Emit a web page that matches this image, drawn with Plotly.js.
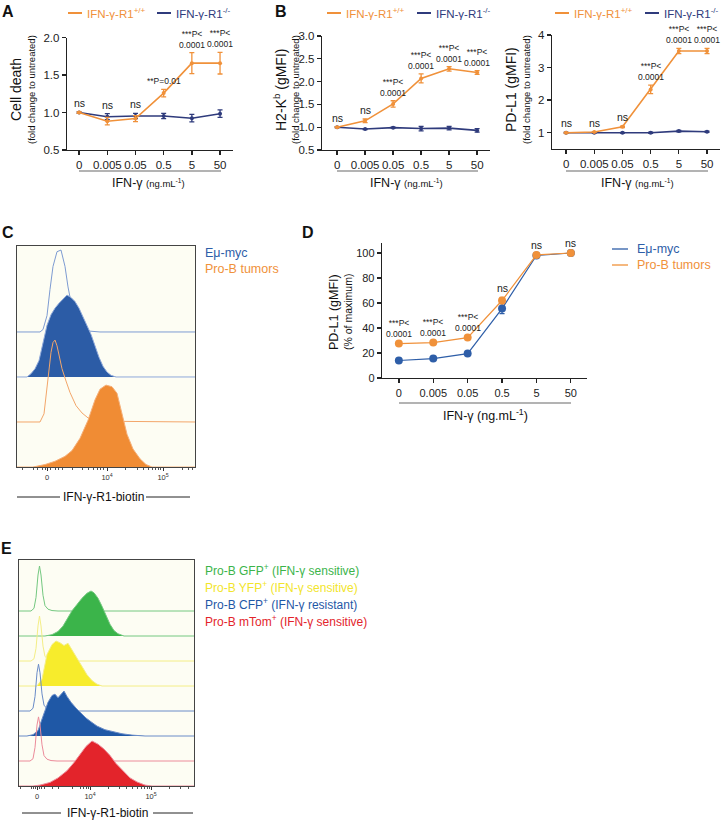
<!DOCTYPE html>
<html>
<head>
<meta charset="utf-8">
<script src="https://cdn.plot.ly/plotly-3.0.1.min.js"></script>
<style>
  html, body { margin: 0; padding: 0; background: #fff; }
  #chart { width: 722px; height: 822px; }
</style>
</head>
<body>
<div id="chart"></div>
<script>
// ---- data ----
const doses = ['0', '0.005', '0.05', '0.5', '5', '50'];

// A: cell death (fold change to untreated)
const deathWT = [1.0, 0.885, 0.92, 1.26, 1.66, 1.66];
const deathWTErr = [0.01, 0.05, 0.04, 0.05, 0.14, 0.145];
const deathKO = [1.0, 0.945, 0.955, 0.955, 0.925, 0.985];
const deathKOErr = [0.01, 0.04, 0.035, 0.035, 0.05, 0.05];
const sigDeath = ['ns', 'ns', 'ns', '**P=0.01', '***P<<br>0.0001', '***P<<br>0.0001'];

// B: H2-Kb gMFI
const kbWT = [1.0, 1.14, 1.51, 2.07, 2.28, 2.2];
const kbWTErr = [0.01, 0.04, 0.07, 0.1, 0.05, 0.04];
const kbKO = [1.0, 0.96, 0.99, 0.97, 0.98, 0.93];
const kbKOErr = [0.01, 0.01, 0.01, 0.05, 0.04, 0.04];
const sigKb = ['ns', 'ns', '***P<<br>0.0001', '***P<<br>0.0001', '***P<<br>0.0001', '***P<<br>0.0001'];

// B (right): PD-L1 gMFI
const pdWT = [1.0, 1.02, 1.18, 2.33, 3.51, 3.51];
const pdWTErr = [0.01, 0.01, 0.02, 0.13, 0.08, 0.08];
const pdKO = [1.0, 1.0, 1.0, 1.0, 1.05, 1.03];
const pdKOErr = [0.01, 0.01, 0.01, 0.02, 0.02, 0.02];
const sigPd = ['ns', 'ns', 'ns', '***P<<br>0.0001', '***P<<br>0.0001', '***P<<br>0.0001'];

// D: PD-L1 % of maximum
const pctMyc = [14, 15.5, 19.5, 55.5, 98, 100];
const pctMycErr = [1, 1, 1, 4, 1.5, 0.5];
const pctProB = [27.5, 28.3, 32.3, 62, 98.5, 100];
const pctProBErr = [1, 1, 1, 2.5, 1, 0.5];
const sigPct = ['***P<<br>0.0001', '***P<<br>0.0001', '***P<<br>0.0001', 'ns', 'ns', 'ns'];

// C: offset histograms (display channel, relative height)
const cMycCtrlX = [17, 40, 43, 47, 50, 53, 57, 61, 65, 68, 72, 77, 83, 90, 100, 195];
const cMycCtrlH = [0, 0, 0.03, 0.2, 0.52, 0.8, 0.98, 1.0, 0.8, 0.55, 0.3, 0.12, 0.04, 0.01, 0, 0];
const cMycX = [17, 27, 31, 35, 39, 43, 47, 51, 55, 59, 63, 67, 71, 75, 79, 83, 87, 91, 95, 99, 103, 107, 111, 116, 195];
const cMycH = [0, 0, 0.04, 0.1, 0.2, 0.42, 0.63, 0.76, 0.84, 0.9, 0.95, 1.0, 0.97, 0.92, 0.84, 0.74, 0.63, 0.52, 0.38, 0.24, 0.13, 0.06, 0.02, 0, 0];
const cProCtrlX = [17, 40, 44, 48, 51, 53, 55, 57, 59, 62, 66, 70, 76, 82, 88, 95, 195];
const cProCtrlH = [0, 0, 0.1, 0.5, 0.85, 0.97, 1.0, 0.93, 0.82, 0.65, 0.5, 0.36, 0.2, 0.11, 0.05, 0.01, 0];
const cProX = [17, 33, 45, 55, 65, 72, 80, 88, 95, 100, 106, 112, 117, 122, 127, 133, 140, 146, 152, 195];
const cProH = [0, 0, 0.03, 0.07, 0.13, 0.2, 0.35, 0.57, 0.82, 0.95, 1.0, 0.98, 0.9, 0.65, 0.4, 0.22, 0.1, 0.03, 0, 0];
const cTickVals = [47, 107, 163];
const cTickText = ['0', '10<sup>4</sup>', '10<sup>5</sup>'];
const cMinorTicks = [22, 33, 37, 42, 45, 50, 55, 58, 62, 72, 82, 88, 93, 97, 100, 103, 125, 137, 143, 148, 152, 155, 158, 160, 182, 188, 192];

// E: offset histograms
const eGfpCtrlX = [19, 31, 34, 36, 38, 39.5, 41, 43, 45, 48, 52, 58, 194];
const eGfpCtrlH = [0, 0, 0.06, 0.3, 0.8, 1.0, 0.8, 0.35, 0.12, 0.04, 0.01, 0, 0];
const eGfpX = [19, 45, 52, 58, 63, 67, 72, 77, 82, 87, 91, 94, 98, 102, 106, 110, 114, 118, 124, 194];
const eGfpH = [0, 0, 0.03, 0.1, 0.22, 0.38, 0.56, 0.7, 0.84, 0.95, 1.0, 0.96, 0.84, 0.66, 0.46, 0.26, 0.12, 0.05, 0, 0];
const eYfpCtrlX = [19, 31, 34, 36, 38, 39.5, 41, 43, 45, 48, 52, 58, 194];
const eYfpCtrlH = [0, 0, 0.05, 0.28, 0.78, 1.0, 0.78, 0.33, 0.1, 0.04, 0.01, 0, 0];
const eYfpX = [19, 37, 42, 47, 52, 56, 60, 64, 68, 72, 77, 82, 87, 92, 97, 102, 194];
const eYfpH = [0, 0, 0.15, 0.7, 0.92, 1.0, 0.96, 0.9, 0.95, 0.8, 0.6, 0.42, 0.25, 0.12, 0.04, 0, 0];
const eCfpCtrlX = [19, 30, 33, 35, 37, 38.5, 40, 42, 44, 47, 51, 57, 194];
const eCfpCtrlH = [0, 0, 0.06, 0.32, 0.85, 1.04, 0.85, 0.38, 0.13, 0.05, 0.01, 0, 0];
const eCfpX = [19, 27, 33, 38, 43, 48, 52, 55, 58, 61, 64, 67, 71, 76, 80, 86, 92, 97, 105, 113, 122, 132, 145, 194];
const eCfpH = [0, 0, 0.03, 0.12, 0.44, 0.75, 0.9, 0.93, 0.85, 0.92, 1.0, 0.88, 0.75, 0.62, 0.53, 0.4, 0.3, 0.22, 0.14, 0.09, 0.05, 0.02, 0, 0];
const eTomCtrlX = [19, 30, 33, 35, 37, 38.5, 40, 42, 44, 47, 51, 57, 194];
const eTomCtrlH = [0, 0, 0.05, 0.3, 0.8, 0.98, 0.8, 0.36, 0.12, 0.04, 0.01, 0, 0];
const eTomX = [19, 33, 40, 50, 58, 67, 74, 80, 86, 92, 98, 104, 110, 116, 123, 130, 137, 145, 152, 194];
const eTomH = [0, 0, 0.02, 0.08, 0.18, 0.34, 0.52, 0.7, 0.88, 1.0, 0.93, 0.82, 0.68, 0.5, 0.34, 0.18, 0.09, 0.02, 0, 0];
const eTickVals = [37, 90, 151];
const eTickText = ['0', '10<sup>4</sup>', '10<sup>5</sup>'];
const eMinorTicks = [20, 31, 33, 35, 39, 41, 44, 52, 58, 72, 80, 83, 86, 88, 108, 119, 126, 132, 137, 141, 144, 147, 149, 169, 180, 188];

const eLegend = [
  ['Pro-B GFP<sup>+</sup> (IFN-γ sensitive)', '#3bb44a'],
  ['Pro-B YFP<sup>+</sup> (IFN-γ sensitive)', '#f2e52b'],
  ['Pro-B CFP<sup>+</sup> (IFN-γ resistant)', '#1f58a6'],
  ['Pro-B mTom<sup>+</sup> (IFN-γ sensitive)', '#e3242b']
];

// ---- styling ----
const W = 722, H = 822;
const px = v => v / W;
const py = v => 1 - v / H;
const FONT = 'Liberation Sans, Arial, Helvetica, sans-serif';
const ORANGE = '#f0913a';
const NAVY = '#2f3b7c';
const MYC = '#2e5ea8';

const traces = [];
const annotations = [];
const shapes = [];

function addPair(xa, ya, wt, wtErr, ko, koErr, kColor, msize, lw) {
  [[ko, koErr, kColor], [wt, wtErr, ORANGE]].forEach(([y, e, c]) => {
    traces.push({
      x: doses, y: y, xaxis: xa, yaxis: ya,
      mode: 'lines+markers', showlegend: false, hoverinfo: 'skip',
      line: { color: c, width: lw },
      marker: { size: msize, color: c },
      error_y: { type: 'data', array: e, color: c, thickness: 1.3, width: 2.5 }
    });
  });
}

function addSig(xa, ya, texts, a, ae, b, be, size) {
  texts.forEach((t, i) => {
    annotations.push({
      xref: xa, yref: ya, x: i, xanchor: 'center',
      y: Math.max(a[i] + ae[i], b[i] + be[i]),
      yanchor: 'bottom', yshift: 1, showarrow: false,
      text: t, font: { family: FONT, size: t === 'ns' ? 10.5 : size, color: '#222' }
    });
  });
}

addPair('x', 'y', deathWT, deathWTErr, deathKO, deathKOErr, NAVY, 4, 1.6);
addPair('x2', 'y2', kbWT, kbWTErr, kbKO, kbKOErr, NAVY, 4, 1.6);
addPair('x3', 'y3', pdWT, pdWTErr, pdKO, pdKOErr, NAVY, 4, 1.6);
addPair('x4', 'y4', pctProB, pctProBErr, pctMyc, pctMycErr, MYC, 8, 1.2);

addSig('x', 'y', sigDeath, deathWT, deathWTErr, deathKO, deathKOErr, 8.5);
addSig('x2', 'y2', sigKb, kbWT, kbWTErr, kbKO, kbKOErr, 8.5);
addSig('x3', 'y3', sigPd, pdWT, pdWTErr, pdKO, pdKOErr, 8.5);
addSig('x4', 'y4', sigPct, pctProB, pctProBErr, pctMyc, pctMycErr, 8.5);

// offset histograms: rows stacked from top to bottom, later rows drawn on top
function addHist(xa, ya, rows, peak) {
  const n = rows.length;
  rows.forEach(([xs, hs, line, fill], k) => {
    const base = n - 1 - k;
    traces.push({
      x: xs, y: hs.map(h => base + h * peak), xaxis: xa, yaxis: ya,
      mode: 'lines', showlegend: false, hoverinfo: 'skip',
      line: { color: line, width: 1 },
      fill: fill ? 'toself' : 'none', fillcolor: fill || undefined
    });
  });
}

addHist('x5', 'y5', [
  [cMycCtrlX, cMycCtrlH, '#7d9bd2', null],
  [cMycX, cMycH, '#8fa9da', '#2c5ca6'],
  [cProCtrlX, cProCtrlH, '#f3a66a', null],
  [cProX, cProH, '#f5b07a', '#f08c34']
], 1.82);

addHist('x6', 'y6', [
  [eGfpCtrlX, eGfpCtrlH, '#74c880', null],
  [eGfpX, eGfpH, '#74c880', '#3bb44a'],
  [eYfpCtrlX, eYfpCtrlH, '#f4ee86', null],
  [eYfpX, eYfpH, '#f4ee86', '#f7ec2c'],
  [eCfpCtrlX, eCfpCtrlH, '#6a8cc8', null],
  [eCfpX, eCfpH, '#6a8cc8', '#1f58a6'],
  [eTomCtrlX, eTomCtrlH, '#ec8b9a', null],
  [eTomX, eTomH, '#ec8b9a', '#e3242b']
], 1.8);

// ---- axes ----
const lineAxis = {
  showline: true, linecolor: '#222', linewidth: 1.3, ticks: 'outside', ticklen: 4,
  tickwidth: 1.3, tickcolor: '#222', showgrid: false, zeroline: false,
  tickfont: { family: FONT, size: 11.5, color: '#222' }
};
const catAxis = (dom, range, anchor, size) => Object.assign({}, lineAxis, {
  domain: dom, range: range, type: 'category', anchor: anchor, tickangle: 0,
  tickfont: { family: FONT, size: size, color: '#222' }
});
const histX = (dom, range, anchor, tv, tt, minor) => ({
  domain: dom, anchor: anchor, range: range,
  showline: true, mirror: true, linecolor: '#444', linewidth: 1,
  ticks: 'outside', ticklen: 3, tickcolor: '#333', tickvals: tv, ticktext: tt, tickangle: 0,
  tickfont: { family: FONT, size: 7.5, color: '#333' },
  minor: { tickvals: minor, ticks: 'outside', ticklen: 2, tickcolor: '#555' },
  showgrid: false, zeroline: false
});
const histY = (dom, anchor, range) => ({
  domain: dom, anchor: anchor, range: range, showline: true, mirror: true,
  linecolor: '#444', linewidth: 1, showticklabels: false, ticks: '',
  showgrid: false, zeroline: false
});

// ---- decorations ----
function txt(x, y, text, size, color, extra) {
  annotations.push(Object.assign({
    xref: 'paper', yref: 'paper', x: px(x), y: py(y), xanchor: 'center', yanchor: 'middle',
    text: text, showarrow: false,
    font: { family: FONT, size: size, color: color || '#222' }
  }, extra || {}));
}
function hline(x0, x1, y, color, width) {
  shapes.push({ type: 'line', xref: 'paper', yref: 'paper', x0: px(x0), x1: px(x1),
    y0: py(y), y1: py(y), line: { color: color, width: width } });
}

// panel letters
[['A', 8, 11], ['B', 281, 11], ['C', 8, 233], ['D', 308, 233], ['E', 7, 548]].forEach(([t, x, y]) =>
  txt(x, y, '<b>' + t + '</b>', 16, '#111'));

// legends above A, B
[[68, 157], [327, 417], [555, 645]].forEach(([a, b]) => {
  hline(a, a + 14, 13, ORANGE, 2);
  txt(a + 17, 13, 'IFN-γ-R1<sup>+/+</sup>', 11.5, ORANGE, { xanchor: 'left' });
  hline(b, b + 14, 13, NAVY, 2);
  txt(b + 17, 13, 'IFN-γ-R1<sup>-/-</sup>', 11.5, NAVY, { xanchor: 'left' });
});

// y titles
[[16, 32, 'Cell death'], [280, 296, 'H2-K<sup>b</sup> (gMFI)'], [511, 527, 'PD-L1 (gMFI)']].forEach(([a, b, t]) => {
  txt(a, 90, t, 14, '#111', { textangle: -90 });
  txt(b, 90, '(fold change to untreated)', 9.5, '#111', { textangle: -90 });
});
txt(334, 312, 'PD-L1 (gMFI)', 12.5, '#111', { textangle: -90 });
txt(348, 312, '(% of maximum)', 10.5, '#111', { textangle: -90 });

// x titles with grey bracket lines
const small = '<span style="font-size:9.5px">(ng.mL<sup>-1</sup>)</span>';
[[79, 221, 148], [337, 478, 407], [566, 708, 637]].forEach(([a, b, c]) => {
  hline(a, b, 171, '#b3b3b3', 2);
  txt(c, 183, 'IFN-γ ' + small, 12.5, '#111');
});
hline(399, 571, 403, '#b3b3b3', 2);
txt(485, 415, 'IFN-γ (ng.mL<sup>-1</sup>)', 12.5, '#111');

// D legend
hline(612, 628, 249, MYC, 1.3);
txt(635, 249, 'Eμ-myc', 12.5, MYC, { xanchor: 'left' });
hline(612, 628, 265, ORANGE, 1.3);
txt(635, 265, 'Pro-B tumors', 12.5, ORANGE, { xanchor: 'left' });

// C legend and title
txt(203, 253, 'Eμ-myc', 12.5, MYC, { xanchor: 'left' });
txt(203, 269, 'Pro-B tumors', 12.5, ORANGE, { xanchor: 'left' });
txt(103, 497, 'IFN-γ-R1-biotin', 12, '#111');
hline(17, 60, 497, '#222', 1);
hline(146, 190, 497, '#222', 1);

// E legend and title
eLegend.forEach(([t, c], i) => txt(203, 570 + i * 17, t, 12, c, { xanchor: 'left' }));
txt(107, 813, 'IFN-γ-R1-biotin', 12, '#111');
hline(22, 61, 813, '#222', 1);
hline(153, 193, 813, '#222', 1);

// ivory plot backgrounds for histograms
['5', '6'].forEach(n => shapes.push({
  type: 'rect', xref: 'x' + n + ' domain', yref: 'y' + n + ' domain',
  x0: 0, x1: 1, y0: 0, y1: 1, layer: 'below', fillcolor: '#fdfdf3', line: { width: 0 }
}));

const layout = {
  width: W, height: H, margin: { l: 0, r: 0, t: 0, b: 0 },
  paper_bgcolor: '#fff', plot_bgcolor: 'rgba(0,0,0,0)',
  font: { family: FONT, color: '#222' },
  showlegend: false,
  xaxis: catAxis([px(67), px(233)], [-0.43, 5.46], 'y', 11.5),
  yaxis: Object.assign({}, lineAxis, { domain: [py(150), py(37.7)], range: [0.5, 2.0], dtick: 0.5, tickformat: '.1f', anchor: 'x' }),
  xaxis2: catAxis([px(322), px(490)], [-0.54, 5.46], 'y2', 11.5),
  yaxis2: Object.assign({}, lineAxis, { domain: [py(150), py(36)], range: [0.5, 3.0], dtick: 0.5, tickformat: '.1f', anchor: 'x2' }),
  xaxis3: catAxis([px(552), px(720)], [-0.5, 5.46], 'y3', 11.5),
  yaxis3: Object.assign({}, lineAxis, { domain: [py(149), py(35)], range: [0.5, 4], tickvals: [1, 2, 3, 4], anchor: 'x3' }),
  xaxis4: catAxis([px(382), px(587)], [-0.49, 5.47], 'y4', 11),
  yaxis4: Object.assign({}, lineAxis, { domain: [py(378), py(243)], range: [0, 108], tickvals: [0, 20, 40, 60, 80, 100], anchor: 'x4',
    tickfont: { family: FONT, size: 11, color: '#222' } }),
  xaxis5: histX([px(17), px(195)], [17, 195], 'y5', cTickVals, cTickText, cMinorTicks),
  yaxis5: histY([py(467), py(246)], 'x5', [0, 4.91]),
  xaxis6: histX([px(19), px(194)], [19, 194], 'y6', eTickVals, eTickText, eMinorTicks),
  yaxis6: histY([py(786), py(560)], 'x6', [0, 9.04]),
  annotations: annotations,
  shapes: shapes
};

Plotly.newPlot('chart', traces, layout, { staticPlot: true, displayModeBar: false });
</script>
</body>
</html>
